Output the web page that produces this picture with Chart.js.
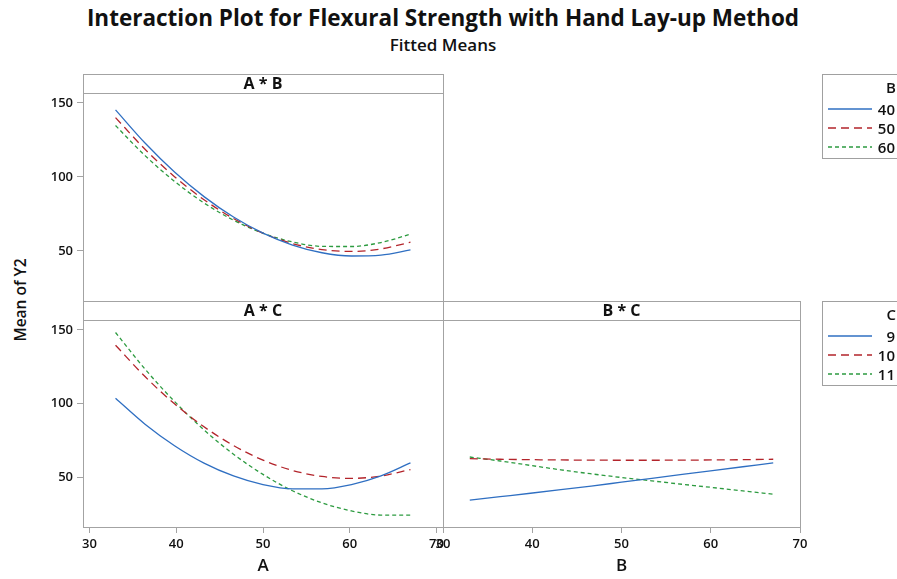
<!DOCTYPE html>
<html>
<head>
<meta charset="utf-8">
<title>Interaction Plot for Flexural Strength with Hand Lay-up Method</title>
<script src="https://cdn.jsdelivr.net/npm/chart.js@4.4.1/dist/chart.umd.min.js"></script>
<style>
  html, body { margin: 0; padding: 0; background: #fff; }
  body { position: relative; width: 897px; height: 579px; overflow: hidden;
         font-family: "Open Sans", "Noto Sans", sans-serif; color: #111; }
  canvas.plot { position: absolute; left: 0; top: 0; }
  #title { position: absolute; left: 0; width: 886px; top: 3px; text-align: center;
           font-size: 22.5px; font-weight: 700; line-height: 30px; white-space: nowrap; }
  #subtitle { position: absolute; left: 0; width: 886px; top: 34px; text-align: center;
              font-size: 17px; font-weight: 600; line-height: 22px; white-space: nowrap; }
  #ylabel { position: absolute; left: 20px; top: 300px; font-size: 15.5px; font-weight: 600; white-space: nowrap;
            transform: translate(-50%, -50%) rotate(-90deg); }
  .lgbox { position: absolute; left: 822px; width: 100px; border: 1px solid #a0a0a0; box-sizing: border-box; }
  .lgtext { position: absolute; font-size: 15px; font-weight: 600; line-height: 20px; white-space: nowrap; text-align: right; }
  svg.lgline { position: absolute; overflow: visible; }
</style>
</head>
<body>
<div id="title">Interaction Plot for Flexural Strength with Hand Lay-up Method</div>
<div id="subtitle">Fitted Means</div>
<div id="ylabel">Mean of Y2</div>

<canvas id="pAB" class="plot" width="897" height="579"></canvas>
<canvas id="pAC" class="plot" width="897" height="579"></canvas>
<canvas id="pBC" class="plot" width="897" height="579"></canvas>

<script>
// Factor settings along the horizontal axes
const aLevels = [33, 36.4, 39.8, 43.2, 46.6, 50, 53.4, 56.8, 60.2, 63.6, 67];
const bLevels = [33, 36.4, 39.8, 43.2, 46.6, 50, 53.4, 56.8, 60.2, 63.6, 67];

// Fitted means of Y2, A * B panel (one series per B level)
const meanAB_B40 = [145.3, 122.9, 103.3, 86.7, 72.9, 62.0, 54.0, 48.8, 46.6, 47.2, 50.7];
const meanAB_B50 = [140.1, 118.7, 100.2, 84.6, 71.9, 62.0, 55.0, 50.9, 49.7, 51.4, 55.9];
const meanAB_B60 = [134.7, 114.4, 97.0, 82.4, 70.8, 62.0, 56.1, 53.1, 53.0, 55.7, 61.3];

// Fitted means of Y2, A * C panel (one series per C level)
const meanAC_C9  = [103.6, 86.0, 71.4, 59.6, 50.9, 45.0, 42.1, 42.1, 45.0, 50.9, 59.7];
const meanAC_C10 = [139.6, 118.3, 99.8, 84.2, 71.5, 61.6, 54.6, 50.5, 49.2, 50.8, 55.2];
const meanAC_C11 = [148.2, 123.4, 101.4, 82.1, 65.6, 51.9, 40.8, 32.6, 27.1, 24.3, 24.3];

// Fitted means of Y2, B * C panel (one series per C level)
const meanBC_C9  = [34.5, 36.8, 39.1, 41.5, 44.0, 46.6, 49.2, 51.9, 54.5, 57.1, 59.7];
const meanBC_C10 = [62.6, 62.2, 61.9, 61.7, 61.6, 61.5, 61.5, 61.6, 61.7, 61.9, 62.2];
const meanBC_C11 = [63.7, 61.0, 58.0, 55.0, 52.3, 49.8, 47.5, 45.2, 43.0, 40.7, 38.5];

// Legend entries and tick labels
const bLegendLabels = ['40', '50', '60'];
const cLegendLabels = ['9', '10', '11'];
const xTickValues = [30, 40, 50, 60, 70];
const yTickValues = [50, 100, 150];

// Line styles per level (1st, 2nd, 3rd level)
const levelStyles = [
  { color: '#2f6fc2', dash: [] },
  { color: '#b3242b', dash: [8, 5] },
  { color: '#2d9b40', dash: [4, 3] }
];

const FONT = '"Open Sans", "Noto Sans", sans-serif';
const FRAME = '#a3a3a3';
const HEADER_H = 19;

// Draws the panel frame and its strip header above the plotting area
const panelFrame = {
  id: 'panelFrame',
  afterDraw(chart, args, opts) {
    const { ctx, chartArea: a } = chart;
    const top = a.top - HEADER_H;
    ctx.save();
    ctx.strokeStyle = FRAME;
    ctx.lineWidth = 1;
    ctx.strokeRect(a.left + 0.5, top + 0.5, a.right - a.left, a.bottom - top);
    ctx.beginPath();
    ctx.moveTo(a.left, a.top + 0.5);
    ctx.lineTo(a.right, a.top + 0.5);
    ctx.stroke();
    ctx.fillStyle = '#111';
    ctx.font = '700 16px ' + FONT;
    ctx.textAlign = 'center';
    ctx.textBaseline = 'middle';
    ctx.fillText(opts.header, (a.left + a.right) / 2, top + HEADER_H / 2 + 1);
    ctx.restore();
  }
};

function series(xs, ys, style) {
  return {
    data: xs.map((x, i) => ({ x: x, y: ys[i] })),
    borderColor: style.color,
    borderDash: style.dash,
    borderWidth: 1.3,
    pointRadius: 0,
    fill: false,
    cubicInterpolationMode: 'monotone'
  };
}

function fixTicks(values) {
  return function (scale) { scale.ticks = values.map(v => ({ value: v })); };
}

function makePanel(id, header, xs, ysList, opt) {
  const datasets = ysList.map((ys, i) => series(xs, ys, levelStyles[i]));
  return new Chart(document.getElementById(id), {
    type: 'line',
    data: { datasets: datasets },
    plugins: [panelFrame],
    options: {
      responsive: false,
      animation: false,
      events: [],
      layout: { padding: opt.padding },
      plugins: { legend: { display: false }, tooltip: { enabled: false }, panelFrame: { header: header } },
      scales: {
        x: {
          type: 'linear',
          min: opt.xMin, max: opt.xMax,
          display: opt.showX,
          afterBuildTicks: fixTicks(xTickValues),
          afterFit(scale) { scale.height = opt.showX ? 49 : 0; },
          grid: { drawOnChartArea: false, drawTicks: true, tickLength: 6, color: FRAME },
          border: { display: false },
          ticks: { autoSkip: false, maxRotation: 0, padding: 3, color: '#111', font: { family: FONT, size: 13, weight: '600' } },
          title: { display: true, text: opt.xTitle, color: '#111', padding: 0, font: { family: FONT, size: 17, weight: '600' } }
        },
        y: {
          type: 'linear',
          min: 16.2, max: 156.7,
          display: opt.showY,
          afterBuildTicks: fixTicks(yTickValues),
          afterFit(scale) { scale.width = opt.showY ? 40 : 0; },
          grid: { drawOnChartArea: false, drawTicks: true, tickLength: 6, color: FRAME },
          border: { display: false },
          ticks: { padding: 4, color: '#111', font: { family: FONT, size: 13, weight: '600' } }
        }
      }
    }
  });
}

// A * B: plot area x 83..443, y 93..301
makePanel('pAB', 'A * B', aLevels, [meanAB_B40, meanAB_B50, meanAB_B60], {
  padding: { left: 43, right: 454, top: 93, bottom: 278 },
  xMin: 29.25, xMax: 70.75, showX: false, showY: true, xTitle: 'A'
});
// A * C: plot area x 83..443, y 320..527
makePanel('pAC', 'A * C', aLevels, [meanAC_C9, meanAC_C10, meanAC_C11], {
  padding: { left: 43, right: 454, top: 320, bottom: 3 },
  xMin: 29.25, xMax: 70.75, showX: true, showY: true, xTitle: 'A'
});
// B * C: plot area x 443..800, y 320..527
makePanel('pBC', 'B * C', bLevels, [meanBC_C9, meanBC_C10, meanBC_C11], {
  padding: { left: 443, right: 97, top: 320, bottom: 3 },
  xMin: 30, xMax: 70, showX: true, showY: false, xTitle: 'B'
});

// Legends for the B and C levels
function addLegend(top, title, labels) {
  const box = document.createElement('div');
  box.className = 'lgbox';
  box.style.top = top + 'px';
  box.style.height = '85px';
  document.body.appendChild(box);

  const addText = (txt, rightX, cy) => {
    const t = document.createElement('div');
    t.className = 'lgtext';
    t.textContent = txt;
    t.style.right = (897 - rightX) + 'px';
    t.style.top = (cy - 10) + 'px';
    document.body.appendChild(t);
  };
  addText(title, 896, top + 13);

  labels.forEach((lab, i) => {
    const cy = top + 35 + i * 19;
    const st = levelStyles[i];
    const svgNS = 'http://www.w3.org/2000/svg';
    const svg = document.createElementNS(svgNS, 'svg');
    svg.setAttribute('class', 'lgline');
    svg.setAttribute('width', '44');
    svg.setAttribute('height', '4');
    svg.style.left = '828px';
    svg.style.top = (cy - 2) + 'px';
    const ln = document.createElementNS(svgNS, 'line');
    ln.setAttribute('x1', '0'); ln.setAttribute('y1', '2');
    ln.setAttribute('x2', '44'); ln.setAttribute('y2', '2');
    ln.setAttribute('stroke', st.color);
    ln.setAttribute('stroke-width', '1.3');
    if (st.dash.length) ln.setAttribute('stroke-dasharray', st.dash.join(' '));
    svg.appendChild(ln);
    document.body.appendChild(svg);
    addText(lab, 895, cy);
  });
}
addLegend(74, 'B', bLegendLabels);
addLegend(301, 'C', cLegendLabels);
</script>
</body>
</html>
